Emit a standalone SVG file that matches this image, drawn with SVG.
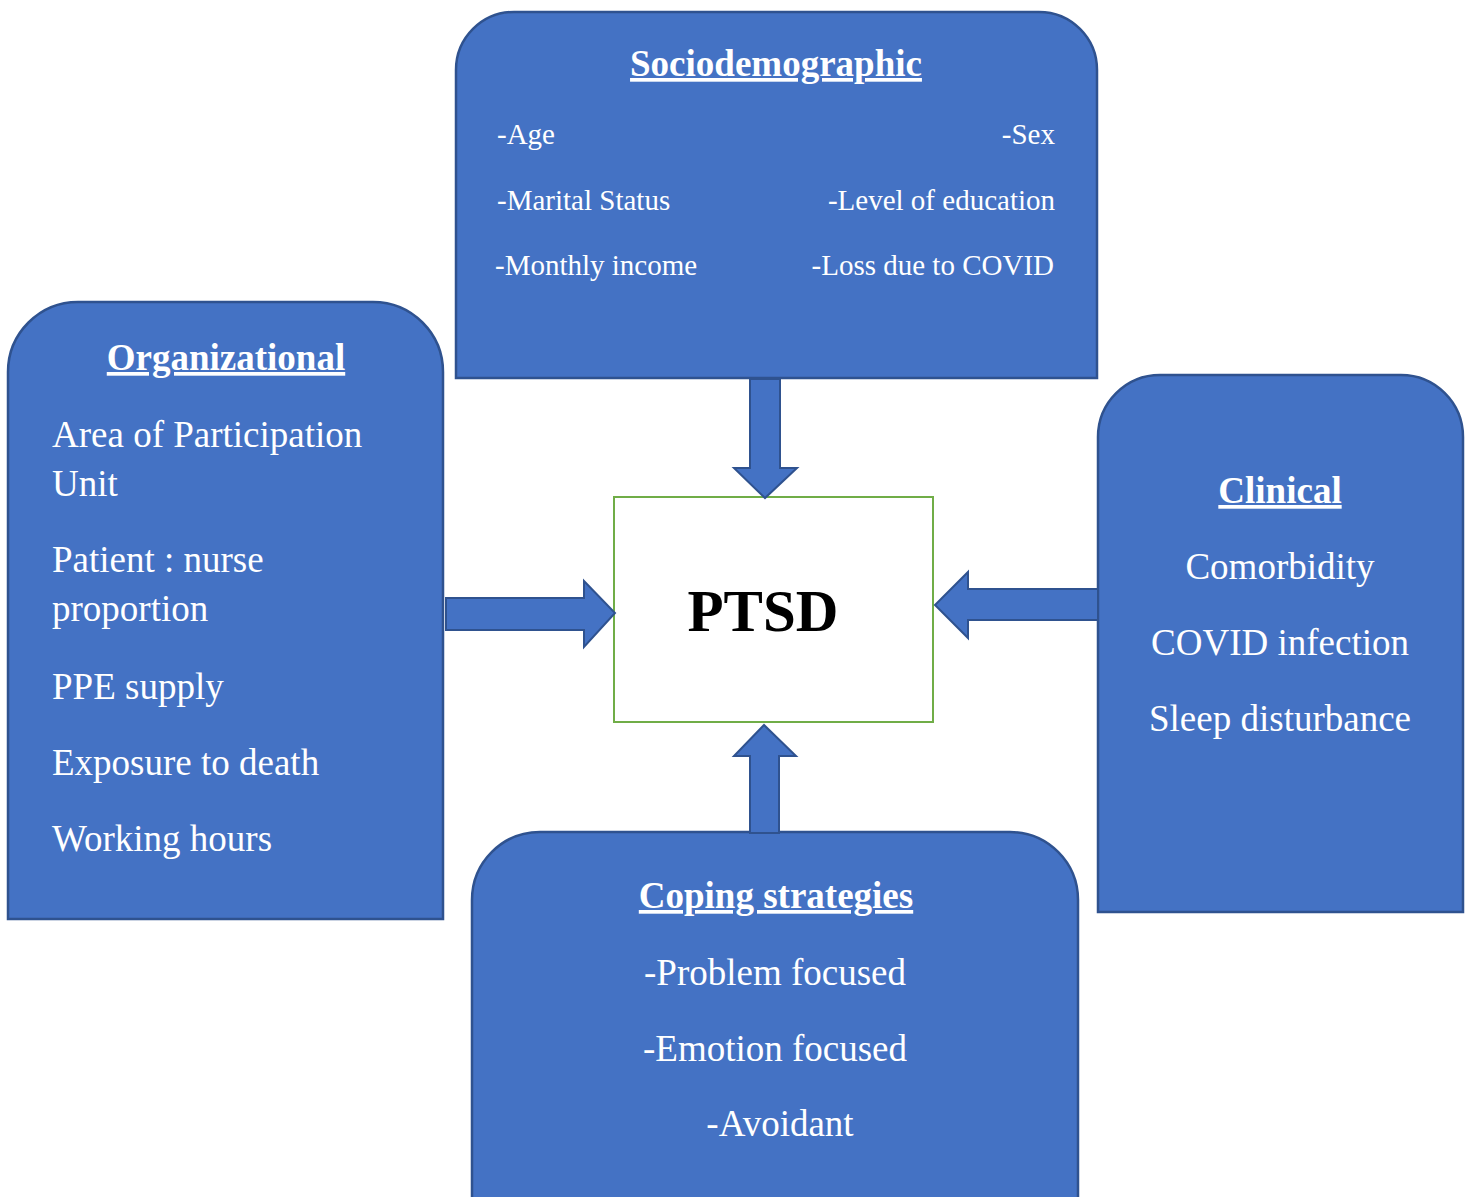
<svg xmlns="http://www.w3.org/2000/svg" width="1470" height="1197" viewBox="0 0 1470 1197">
<style>
.box{fill:#4472C4;stroke:#2F528F;stroke-width:2.5}
.arrow{fill:#4472C4;stroke:#2F528F;stroke-width:2;stroke-linejoin:miter}
text{font-family:"Liberation Serif","Times New Roman",serif;fill:#FFFFFF}
.title{font-size:37px;font-weight:bold;text-decoration:underline;text-anchor:middle}
.item{font-size:37px}
.small{font-size:29px}
.mid{text-anchor:middle}
.end{text-anchor:end}
</style>
<rect width="1470" height="1197" fill="#FFFFFF"/>
<g id="sociodemographic">
<path class="box" d="M456,378 V70 A58,58 0 0 1 514,12 H1039 A58,58 0 0 1 1097,70 V378 Z"/>
<text class="title" x="776" y="76">Sociodemographic</text>
<text class="small" x="497" y="144">-Age</text>
<text class="small end" x="1055" y="144">-Sex</text>
<text class="small" x="497" y="210">-Marital Status</text>
<text class="small end" x="1055" y="210">-Level of education</text>
<text class="small" x="495" y="275">-Monthly income</text>
<text class="small end" x="1054" y="275">-Loss due to COVID</text>
</g>
<g id="organizational">
<path class="box" d="M8,919 V372 A70,70 0 0 1 78,302 H373 A70,70 0 0 1 443,372 V919 Z"/>
<text class="title" x="226" y="370">Organizational</text>
<text class="item" x="52" y="447">Area of Participation</text>
<text class="item" x="52" y="496">Unit</text>
<text class="item" x="52" y="572">Patient : nurse</text>
<text class="item" x="52" y="621">proportion</text>
<text class="item" x="52" y="699">PPE supply</text>
<text class="item" x="52" y="775">Exposure to death</text>
<text class="item" x="52" y="851">Working hours</text>
</g>
<g id="clinical">
<path class="box" d="M1098,912 V437 A62,62 0 0 1 1160,375 H1401 A62,62 0 0 1 1463,437 V912 Z"/>
<text class="title" x="1280" y="503">Clinical</text>
<text class="item mid" x="1280" y="579">Comorbidity</text>
<text class="item mid" x="1280" y="655">COVID infection</text>
<text class="item mid" x="1280" y="731">Sleep disturbance</text>
</g>
<g id="coping">
<path class="box" d="M472,1200 V900 A68,68 0 0 1 540,832 H1010 A68,68 0 0 1 1078,900 V1200 Z"/>
<text class="title" x="776" y="908">Coping strategies</text>
<text class="item mid" x="775" y="985">-Problem focused</text>
<text class="item mid" x="775" y="1061">-Emotion focused</text>
<text class="item mid" x="780" y="1136">-Avoidant</text>
</g>
<g id="ptsd">
<rect x="614" y="497" width="319" height="225" fill="#FFFFFF" stroke="#70AD47" stroke-width="2"/>
<text x="763" y="631" text-anchor="middle" font-size="59" font-weight="bold" style="fill:#000000">PTSD</text>
</g>
<g id="connectors">
<polygon class="arrow" points="750,379 780,379 780,468 797,468 765,498 734,468 750,468"/>
<polygon class="arrow" points="446,598 584,598 584,581 615,613 584,647 584,630 446,630"/>
<polygon class="arrow" points="1098,589 968,589 968,572 935,605 968,638 968,620 1098,620"/>
<polygon class="arrow" points="750,833 750,756 734,756 764,725 796,756 779,756 779,833"/>
</g>
</svg>
